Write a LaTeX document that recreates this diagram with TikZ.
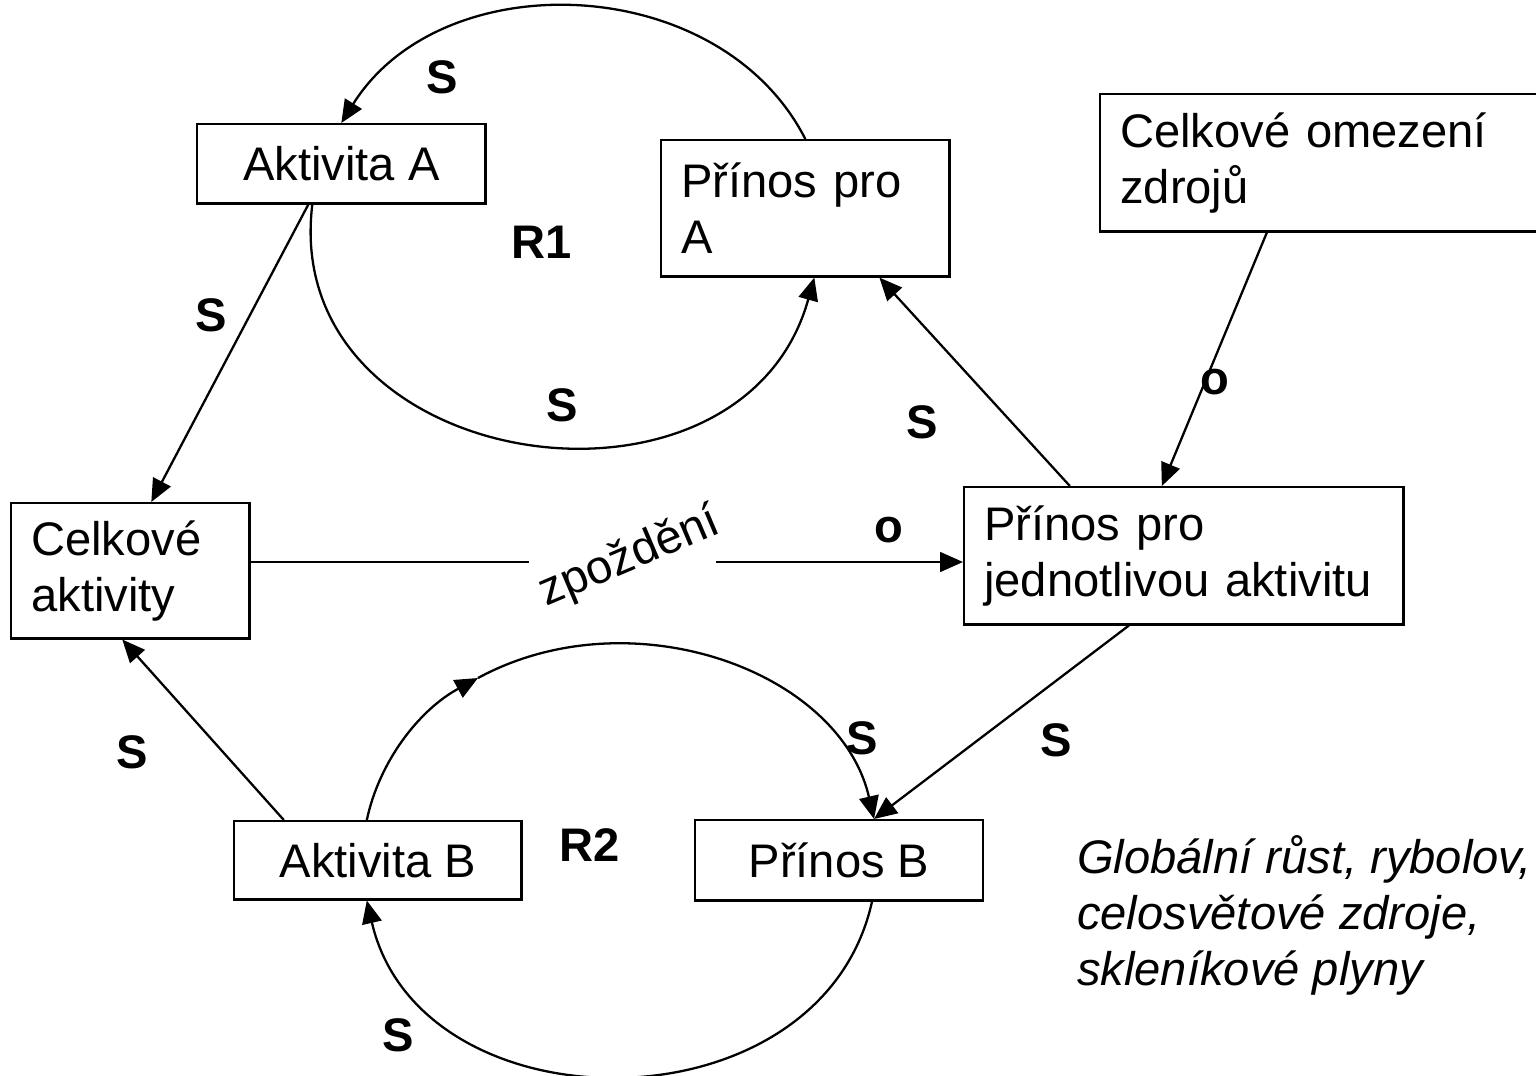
\documentclass[tikz,border=0pt]{standalone}
\usepackage{fontspec}
\setmainfont{Liberation Sans}
\usepackage{tikz}
\usetikzlibrary{calc}
\usetikzlibrary{positioning}
\usetikzlibrary{arrows.meta}
\tikzset{every node/.style={font=\fontsize{13.4}{15.9}\selectfont}}
\tikzset{box/.style={draw,line width=0.7pt,anchor=north west,inner sep=0pt}}
\tikzset{tbox/.style={box,align=left,inner xsep=0.2cm}}
\tikzset{sgn/.style={font=\fontsize{13.4}{15.9}\selectfont\bfseries}}
\begin{document}
\begin{tikzpicture}[x=0.01cm,y=0.01cm,>={Triangle[length=6.5pt,width=5.6pt]},line width=0.65pt]
		\path[use as bounding box,fill=white] (0,0) rectangle (1536,-1076);
		\node[box,minimum width=2.88cm,minimum height=0.79cm] (aA) at (196,-123) {Aktivita A};
		\node[tbox,text width=2.48cm,minimum height=1.36cm] (pA) at (660,-139) {Přínos pro\\A};
		\node[tbox,text width=4.21cm,minimum height=1.37cm] (cZ) at (1099,-93) {Celkové omezení\\zdrojů};
		\node[tbox,text width=1.98cm,minimum height=1.35cm] (cA) at (10,-502) {Celkové\\aktivity};
		\node[tbox,text width=3.99cm,minimum height=1.37cm] (pJ) at (963,-486) {Přínos pro\\jednotlivou aktivitu};
		\node[box,minimum width=2.87cm,minimum height=0.78cm] (aB) at (233,-820) {Aktivita B};
		\node[box,minimum width=2.88cm,minimum height=0.8cm,right=1.71cm of aB] (pB) {Přínos B};
		\node[sgn] (sA) at (442,-77) {S};
		\node[sgn] (r1) at (542,-242) {R1};
		\node[sgn] (sB) at (211,-315) {S};
		\node[sgn] (sC) at (562,-405) {S};
		\node[sgn] (sD) at (922,-422) {S};
		\node[sgn] (oA) at (1215,-382) {o};
		\node[sgn] (oB) at (889,-530) {o};
		\node[sgn] (sE) at (132,-752) {S};
		\node[sgn] (sF) at (862,-738) {S};
		\node[sgn] (sG) at (1056,-740) {S};
		\node[sgn] (r2) at (590,-845) {R2};
		\node[sgn] (sH) at (398,-1035) {S};
		\node[rotate=23,inner sep=1pt] (zp) at (630,-558) {zpoždění};
		\node[anchor=west,align=left,inner sep=0pt,font=\fontsize{13.4}{15.9}\selectfont\itshape] (gl) at (1076,-915) {Globální růst, rybolov,\\celosvětové zdroje,\\skleníkové plyny};
		\coordinate (gapL) at (529,-562);
		\coordinate (gapR) at (716,-562);
		\coordinate (r2mid) at (478,-678);
		\draw[->] ($(aA.south)+(-33,0)$) -- ($(cA.north)+(21,0)$);
		\draw (cA.east |- gapL) -- (gapL);
		\draw[->] (gapR) -- (gapR -| pJ.west);
		\draw[->] ($(pJ.north)+(-114,0)$) -- ($(pA.south)+(74,0)$);
		\draw[->] ($(cZ.south)+(-64,0)$) -- ($(pJ.north)+(-22,0)$);
		\draw[->] ($(pJ.south)+(-55,0)$) -- ($(pB.north)+(35,0)$);
		\draw[->] ($(aB.north)+(-94,0)$) -- ($(cA.south)+(-8,0)$);
		\draw[->] (pA.north) to[out=117,in=58,out distance=1.88cm,in distance=1.9cm] (aA.north);
		\draw[->] ($(aA.south)+(-29,0)$) to[out=263,in=254.5,out distance=2.72cm,in distance=2.74cm] ($(pA.south)+(9,0)$);
		\draw[->] ($(aB.north)+(-11,0)$) to[out=78,in=208.5,out distance=0.6cm,in distance=0.67cm] (r2mid);
		\draw[->] (r2mid) to[out=28.5,in=103,out distance=1.73cm,in distance=1.53cm] ($(pB.north)+(35,0)$);
		\draw[->] ($(pB.south)+(33,0)$) to[out=257.5,in=283,out distance=2.38cm,in distance=2.38cm] ($(aB.south)+(-11,0)$);
\end{tikzpicture}
\end{document}
